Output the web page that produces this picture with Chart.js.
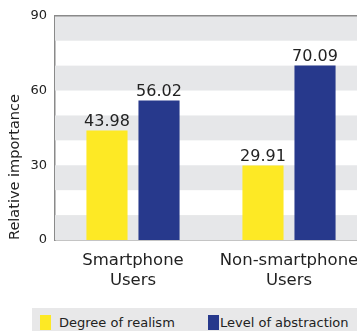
<!DOCTYPE html>
<html>
<head>
<meta charset="utf-8">
<script src="https://cdn.jsdelivr.net/npm/chart.js@4.4.1/dist/chart.umd.min.js"></script>
<style>
    html, body { margin: 0; padding: 0; background: #fff; overflow: hidden; }
    #wrap { position: relative; width: 388px; height: 340px; }
    #chart { position: absolute; left: 0; top: 0; }
    #legend {
        position: absolute; left: 32px; top: 308px; width: 350px; height: 30px;
        background: #e8e8e9; font-family: "DejaVu Sans", Verdana, sans-serif;
        font-size: 13px; color: #222;
    }
    .item { position: absolute; top: 7px; height: 16px; line-height: 16px; white-space: nowrap; }
    .swatch { position: absolute; left: 0; top: 0; width: 11px; height: 15px; }
    .item span { position: absolute; top: 0; }
</style>
</head>
<body>
<div id="wrap">
    <canvas id="chart" width="388" height="305"></canvas>
    <div id="legend"></div>
</div>
<script>
var categories = [['Smartphone', 'Users'], ['Non-smartphone', 'Users']];
var seriesNames = ['Degree of realism', 'Level of abstraction'];
var realism = [43.98, 29.91];
var abstraction = [56.02, 70.09];
var seriesColors = ['#fde925', '#27398c'];
var tickLabels = [0, 30, 60, 90];

// gray stripes every 10 units behind the bars, plus the top frame line
var stripes = {
    id: 'stripes',
    beforeDatasetsDraw: function (chart) {
        var ctx = chart.ctx, y = chart.scales.y, area = chart.chartArea;
        ctx.save();
        ctx.fillStyle = '#e6e7e9';
        for (var v = 0; v < 90; v += 20) {
            var top = y.getPixelForValue(v + 10), bottom = y.getPixelForValue(v);
            ctx.fillRect(area.left, top, area.right - area.left, bottom - top);
        }
        ctx.strokeStyle = '#8a8a8a';
        ctx.lineWidth = 1.5;
        ctx.beginPath();
        ctx.moveTo(area.left, area.top);
        ctx.lineTo(area.right, area.top);
        ctx.stroke();
        ctx.restore();
    }
};

var valueLabels = {
    id: 'valueLabels',
    afterDatasetsDraw: function (chart) {
        var ctx = chart.ctx;
        ctx.save();
        ctx.font = '16px "DejaVu Sans", Verdana, sans-serif';
        ctx.fillStyle = '#222';
        ctx.textAlign = 'center';
        ctx.textBaseline = 'alphabetic';
        chart.data.datasets.forEach(function (ds, i) {
            chart.getDatasetMeta(i).data.forEach(function (bar, j) {
                ctx.fillText(ds.data[j].toFixed(2), bar.x, bar.y - 4);
            });
        });
        ctx.restore();
    }
};

new Chart(document.getElementById('chart'), {
    type: 'bar',
    data: {
        labels: categories,
        datasets: [
            { label: seriesNames[0], data: realism, backgroundColor: seriesColors[0] },
            { label: seriesNames[1], data: abstraction, backgroundColor: seriesColors[1] }
        ]
    },
    options: {
        responsive: false,
        animation: false,
        layout: { padding: { top: 15, right: 21, bottom: 15, left: 0 } },
        categoryPercentage: 0.667,
        barPercentage: 0.79,
        plugins: { legend: { display: false }, tooltip: { enabled: false } },
        scales: {
            x: {
                grid: { display: false },
                border: { display: true, color: '#8a8a8a', width: 1.5 },
                ticks: {
                    color: '#222',
                    padding: 3,
                    font: { family: '"DejaVu Sans", Verdana, sans-serif', size: 16.5, lineHeight: 1.22 },
                    maxRotation: 0
                },
                afterFit: function (s) { s.height = 50; }
            },
            y: {
                min: 0,
                max: 90,
                grid: { display: false, drawTicks: false },
                border: { display: true, color: '#8a8a8a', width: 1.5 },
                ticks: {
                    stepSize: 10,
                    padding: 8,
                    color: '#222',
                    font: { family: '"DejaVu Sans", Verdana, sans-serif', size: 13 },
                    callback: function (v) { return tickLabels.indexOf(v) >= 0 ? v : ''; }
                },
                title: {
                    display: true,
                    text: 'Relative importance',
                    align: 'start',
                    color: '#222',
                    padding: { top: 7, bottom: 0 },
                    font: { family: '"DejaVu Sans", Verdana, sans-serif', size: 14.5 }
                },
                afterFit: function (s) { s.width = 55; }
            }
        }
    },
    plugins: [stripes, valueLabels]
});

var legend = document.getElementById('legend');
var lefts = [8, 176];
seriesNames.forEach(function (name, i) {
    var item = document.createElement('div');
    item.className = 'item';
    item.style.left = lefts[i] + 'px';
    item.innerHTML = '<div class="swatch" style="background:' + seriesColors[i] + '"></div>' +
        '<span style="left:' + (i === 0 ? 19 : 12) + 'px">' + name + '</span>';
    legend.appendChild(item);
});
</script>
</body>
</html>
